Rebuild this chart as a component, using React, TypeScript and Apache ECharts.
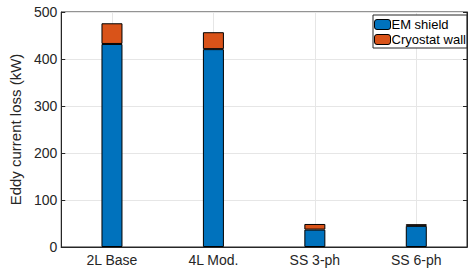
import React, { useEffect, useRef } from "react";
import * as echarts from "echarts";

const categories = ["2L Base", "4L Mod.", "SS 3-ph", "SS 6-ph"];
const emShield = [432, 421, 37, 45];
const cryostatWall = [44, 36, 12, 3.5];
const yTicks = { min: 0, max: 500, interval: 100 };

const FONT = "'Liberation Sans', Arial, Helvetica, sans-serif";
const TXT = "#262626";

export default function App() {
  const ref = useRef<HTMLDivElement>(null);
  useEffect(() => {
    if (!ref.current) return;
    const chart = echarts.init(ref.current, undefined, { renderer: "svg" });
    chart.setOption({
      animation: false,
      textStyle: { fontFamily: FONT },
      grid: {
        left: 55,
        right: 1,
        top: 12,
        bottom: 22,
        show: true,
        borderColor: TXT,
        borderWidth: 1,
        backgroundColor: "#fff",
      },
      legend: {
        orient: "vertical",
        left: 373,
        top: 15,
        itemWidth: 16,
        itemHeight: 10,
        itemGap: 2,
        padding: [3, 1, 2, 1],
        borderColor: TXT,
        borderWidth: 1,
        backgroundColor: "#fff",
        itemStyle: { borderColor: "#000", borderWidth: 1 },
        textStyle: { fontSize: 13, color: "#000", fontFamily: FONT, padding: [0, 0, 0, -4] },
        data: ["EM shield", "Cryostat wall"],
      },
      xAxis: [
        {
          type: "category",
          data: categories,
          axisLine: { lineStyle: { color: TXT } },
          axisTick: { inside: true, length: 4, alignWithLabel: true, lineStyle: { color: TXT } },
          axisLabel: { color: TXT, fontSize: 14, margin: 6 },
          splitLine: { show: true, alignWithLabel: true, lineStyle: { color: "#e6e6e6" } },
        },
        {
          type: "category",
          data: categories,
          position: "top",
          axisLine: { lineStyle: { color: TXT } },
          axisTick: { inside: true, length: 4, alignWithLabel: true, lineStyle: { color: TXT } },
          axisLabel: { show: false },
        },
      ],
      yAxis: [
        {
          type: "value",
          ...yTicks,
          name: "Eddy current loss (kW)",
          nameLocation: "middle",
          nameGap: 31,
          nameTextStyle: { color: TXT, fontSize: 15, fontFamily: FONT },
          axisLine: { show: true, lineStyle: { color: TXT } },
          axisTick: { show: true, inside: true, length: 4, lineStyle: { color: TXT } },
          axisLabel: { color: TXT, fontSize: 14, margin: 4 },
          splitLine: { show: true, lineStyle: { color: "#e6e6e6" } },
        },
        {
          type: "value",
          ...yTicks,
          position: "right",
          axisLine: { show: true, lineStyle: { color: TXT } },
          axisTick: { show: true, inside: true, length: 4, lineStyle: { color: TXT } },
          axisLabel: { show: false },
          splitLine: { show: false },
        },
      ],
      series: [
        {
          name: "EM shield",
          type: "bar",
          stack: "a",
          data: emShield,
          barWidth: 21,
          itemStyle: { color: "#0072BD", borderColor: "#000", borderWidth: 1 },
        },
        {
          name: "Cryostat wall",
          type: "bar",
          stack: "a",
          data: cryostatWall,
          barWidth: 21,
          itemStyle: { color: "#D95319", borderColor: "#000", borderWidth: 1 },
        },
      ],
    });
    return () => chart.dispose();
  }, []);
  return <div ref={ref} style={{ width: 468, height: 269, position: "absolute", left: 0, top: 0 }} />;
}
